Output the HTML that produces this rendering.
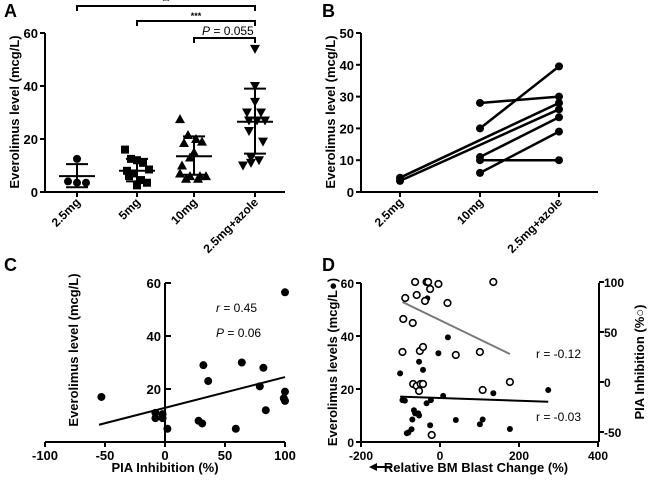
<!DOCTYPE html>
<html><head><meta charset="utf-8">
<style>
body{margin:0;background:#fff;}
svg{display:block;font-family:"Liberation Sans",Arial,sans-serif;font-weight:bold;}
</style></head>
<body>
<svg id="fig" width="650" height="482" viewBox="0 0 650 482"></svg>
<script>
// ---- Panel A data ----
const aCats = ["2.5mg","5mg","10mg","2.5mg+azole"];
const aVals = [
  [12.5,4,3.5,3.5],
  [16,12.5,12,11,8.5,8,7,4.5,3.5,2.5,6],
  [27.5,21.5,20,19,18.5,15,13,10,7,6,6,5,5,6],
  [54,40,34,30,30,27,27,27,23,19,13,12,10,11]
];
const aMean = [6,8,13.5,26.5];
const aSdHi = [10.5,12.5,21,39];
const aSdLo = [1.8,4,6.5,14.5];
const aTicks = [0,20,40,60];
// ---- Panel B data ----
const bCats = ["2.5mg","10mg","2.5mg+azole"];
const bPairs = [[0,4.5,28],[0,3.5,26],[1,28,30],[1,20,39.5],[1,11,23.5],[1,10,10],[1,6,19]];
const bTicks = [0,10,20,30,40,50];
// ---- Panel C data ----
const cX = [-53,-8,-8,-2,-2,2,28,31,32,36,59,64,79,82,84,99,100,100,100];
const cY = [17,11,9,10.5,9,5,8,7,29,23,5,30,21,28,12,16.5,15.5,19,56.5];
const cFitX = [-55,100];
const cFitY = [6.5,24.5];
const cXTicks = [-100,-50,0,50,100];
const cYTicks = [20,40,60];
// ---- Panel D data ----
const dFX = [-101,-95,-89,-84,-80,-72,-70,-66,-63,-55,-53,-46,-43,-53,-34,-23,-25,-32,-4,8,20,40,101,108,135,177,274];
const dFY = [25.9,15.8,15.6,3.3,3.6,4.8,8.5,12,10.8,10.8,10,21.9,27.2,30.3,14.6,15.8,6.3,54.2,33.5,17.4,39.5,8.3,6.7,8.5,18.4,4.9,19.6];
const dOX = [-63,-34,-30,-4,135,-88,-59,-38,-25,19,-93,-69,-95,-51,-43,40,101,-68,-59,-49,-43,-53,108,177,-21];
const dOY = [100,100,100,98,100,84,87,81,93,79,63,59,30,31,35,27,30,-2,-4,-2,-2,-9,-8,0,-53];
const dFitFX = [-101,274], dFitFY = [17.1,15.2];
const dFitOX = [-95,177], dFitOY = [80,28];
const dXTicks = [-200,0,200,400];
const dYTicks = [0,20,40,60];
const dRTicks = [-50,0,50,100];

const NS="http://www.w3.org/2000/svg";
const svg=document.getElementById('fig');
function el(tag,attrs,parent){const e=document.createElementNS(NS,tag);for(const k in attrs)e.setAttribute(k,attrs[k]);(parent||svg).appendChild(e);return e;}
function line(x1,y1,x2,y2,w,c,name){const e=el('line',{x1,y1,x2,y2,stroke:c||'#000','stroke-width':w||2});


return e;}
function text(x,y,s,opts,name){const e=el('text',Object.assign({x,y,'font-size':11,fill:'#000'},opts||{}));e.textContent=s;


return e;}
function dot(x,y,r,name,open){const e=el('circle',{cx:x,cy:y,r:r,fill:open?'#fff':'#000',stroke:'#000','stroke-width':open?1.6:0});


return e;}

text(4,17,"A",{'font-size':18},'panel-label-a');
text(322,17,"B",{'font-size':18},'panel-label-b');
text(4,271,"C",{'font-size':18},'panel-label-c');
text(322,271,"D",{'font-size':18},'panel-label-d');

// ---- Panel A ----
{
const ay=v=>192-v*(159/60);
const ax=[77,137,194,255];
line(45,192,285,192,2,'#000','x-axis-a');
line(45,192,45,33,2,'#000','y-axis-a');
aTicks.forEach(t=>{line(40,ay(t),45,ay(t),2,'#000','y-tick-a');text(38,ay(t)+5,t,{'text-anchor':'end','font-size':13},'y-tick-label-a');});
aCats.forEach((c,i)=>{line(ax[i],192,ax[i],197,2,'#000','x-tick-a');
 text(ax[i]+4,203,c,{'text-anchor':'end','font-size':12,transform:`rotate(-45 ${ax[i]+4} 203)`},'x-tick-label-a');});
const offs=[[0,-9,0,9],[-12,-6,0,6,12,-10,-4,4,10,0,-8],[-14,-6,2,8,-10,0,-4,-12,-14,12,-4,4,-8,6],[0,0,0,-8,6,-6,2,10,-6,8,-4,4,-12,-4]];
aVals.forEach((arr,i)=>{
 arr.forEach((v,j)=>{const x=ax[i]+offs[i][j],y=ay(v);let e;
  if(i===0)e=el('circle',{cx:x,cy:y,r:4});
  else if(i===1)e=el('rect',{x:x-4,y:y-4,width:8,height:8});
  else if(i===2)e=el('polygon',{points:`${x},${y-5} ${x-5},${y+4} ${x+5},${y+4}`});
  else e=el('polygon',{points:`${x},${y+5} ${x-5},${y-4} ${x+5},${y-4}`});
  
  });
 line(ax[i]-18,ay(aMean[i]),ax[i]+18,ay(aMean[i]),2,'#000','mean-line-a');
 line(ax[i],ay(aSdHi[i]),ax[i],ay(aSdLo[i]),2,'#000','sd-bar-a');
 line(ax[i]-11,ay(aSdHi[i]),ax[i]+11,ay(aSdHi[i]),2,'#000','sd-cap-a');
 line(ax[i]-11,ay(aSdLo[i]),ax[i]+11,ay(aSdLo[i]),2,'#000','sd-cap-a');
});
const br=(x1,x2,y,name)=>{const p=el('polyline',{points:`${x1},${y+5} ${x1},${y} ${x2},${y} ${x2},${y+5}`,fill:'none',stroke:'#000','stroke-width':2});
 };
br(ax[0],ax[3],6,'bracket-2-5mg-vs-azole');text(166,4,"**",{'text-anchor':'middle','font-size':9},'significance-stars');
br(ax[1],ax[3],21,'bracket-5mg-vs-azole');text(196,19,"***",{'text-anchor':'middle','font-size':9},'significance-stars');
br(ax[2],ax[3],38,'bracket-10mg-vs-azole');
const pt=text(202,35,"",{'font-size':12,'font-weight':'normal'},'p-value-label');
pt.innerHTML='<tspan font-style="italic">P</tspan> = 0.055';
text(19,112,"Everolimus level (mcg/L)",{'text-anchor':'middle','font-size':13,transform:'rotate(-90 19 112)'},'y-axis-title-a');
}

// ---- Panel B ----
{
const by=v=>192-v*(159/50);
const bx=[400,480,559];
line(361,192,598,192,2,'#000','x-axis-b');
line(361,192,361,33,2,'#000','y-axis-b');
bTicks.forEach(t=>{line(356,by(t),361,by(t),2,'#000','y-tick-b');text(354,by(t)+5,t,{'text-anchor':'end','font-size':13},'y-tick-label-b');});
bCats.forEach((c,i)=>{line(bx[i],192,bx[i],197,2,'#000','x-tick-b');
 text(bx[i]+4,203,c,{'text-anchor':'end','font-size':12,transform:`rotate(-45 ${bx[i]+4} 203)`},'x-tick-label-b');});
bPairs.forEach(p=>{line(bx[p[0]],by(p[1]),bx[2],by(p[2]),2.5,'#000','paired-line');
 dot(bx[p[0]],by(p[1]),4,'paired-point');dot(bx[2],by(p[2]),4,'paired-point');});
text(335,112,"Everolimus level (mcg/L)",{'text-anchor':'middle','font-size':13,transform:'rotate(-90 335 112)'},'y-axis-title-b');
}

// ---- Panel C ----
{
const cx=v=>165+v*1.2, cy=v=>442-v*(159/60);
line(45,442,285,442,2,'#000','x-axis-c');
line(165,442,165,283,2,'#000','y-axis-c');
cXTicks.forEach(t=>{line(cx(t),442,cx(t),447,2,'#000','x-tick-c');text(cx(t),460,t,{'text-anchor':'middle','font-size':13},'x-tick-label-c');});
cYTicks.forEach(t=>{line(165,cy(t),171,cy(t),2,'#000','y-tick-c');text(161,cy(t)+5,t,{'text-anchor':'end','font-size':13},'y-tick-label-c');});
cX.forEach((x,i)=>dot(cx(x),cy(cY[i]),4,'scatter-point-c'));
line(cx(cFitX[0]),cy(cFitY[0]),cx(cFitX[1]),cy(cFitY[1]),2,'#000','regression-line-c');
const r=text(216,312,"",{'font-size':12,'font-weight':'normal'},'r-value-c');r.innerHTML='<tspan font-style="italic">r</tspan> = 0.45';
const p=text(216,337,"",{'font-size':12,'font-weight':'normal'},'p-value-c');p.innerHTML='<tspan font-style="italic">P</tspan> = 0.06';
text(165,472,"PIA Inhibition (%)",{'text-anchor':'middle','font-size':13},'x-axis-title-c');
text(78,350,"Everolimus level (mcg/L)",{'text-anchor':'middle','font-size':13,transform:'rotate(-90 78 350)'},'y-axis-title-c');
}

// ---- Panel D ----
{
const dx=v=>440+v*(79/200), dy=v=>442-v*(159/60), dr=v=>382-v;
line(361,442,599,442,2,'#000','x-axis-d');
line(361,442,361,283,2,'#000','y-axis-left-d');
line(599,442,599,283,2,'#000','y-axis-right-d');
dXTicks.forEach(t=>{line(dx(t),442,dx(t),447,2,'#000','x-tick-d');text(dx(t),460,t,{'text-anchor':'middle','font-size':12},'x-tick-label-d');});
dYTicks.forEach(t=>{line(356,dy(t),361,dy(t),2,'#000','y-tick-left-d');text(354,dy(t)+5,t,{'text-anchor':'end','font-size':12},'y-tick-label-left-d');});
dRTicks.forEach(t=>{line(599,dr(t),604,dr(t),2,'#000','y-tick-right-d');text(604,dr(t)+5,t,{'text-anchor':'start','font-size':12},'y-tick-label-right-d');});
line(dx(dFitOX[0]),dr(dFitOY[0]),dx(dFitOX[1]),dr(dFitOY[1]),2,'#777','regression-line-pia');
line(dx(dFitFX[0]),dy(dFitFY[0]),dx(dFitFX[1]),dy(dFitFY[1]),2,'#000','regression-line-everolimus');
dFX.forEach((x,i)=>dot(dx(x),dy(dFY[i]),3,'everolimus-point'));
dOX.forEach((x,i)=>dot(dx(x),dr(dOY[i]),3.3,'pia-point',true));
text(536,358,"r = -0.12",{'font-size':12,'font-weight':'normal'},'r-value-pia');
text(536,421,"r = -0.03",{'font-size':12,'font-weight':'normal'},'r-value-everolimus');
text(476,472,"Relative BM Blast Change (%)",{'text-anchor':'middle','font-size':13},'x-axis-title-d');
line(376,467,392,467,2,'#000','direction-arrow');
const ah=el('polygon',{points:'369,467 377,463 377,471'});
text(337,362,"Everolimus levels (mcg/L\u25CF)",{'text-anchor':'middle','font-size':13,transform:'rotate(-90 337 362)'},'y-axis-title-left-d');
text(644,362,"PIA Inhibition (%\u25CB)",{'text-anchor':'middle','font-size':13,transform:'rotate(-90 644 362)'},'y-axis-title-right-d');
}
</script>
</body></html>
